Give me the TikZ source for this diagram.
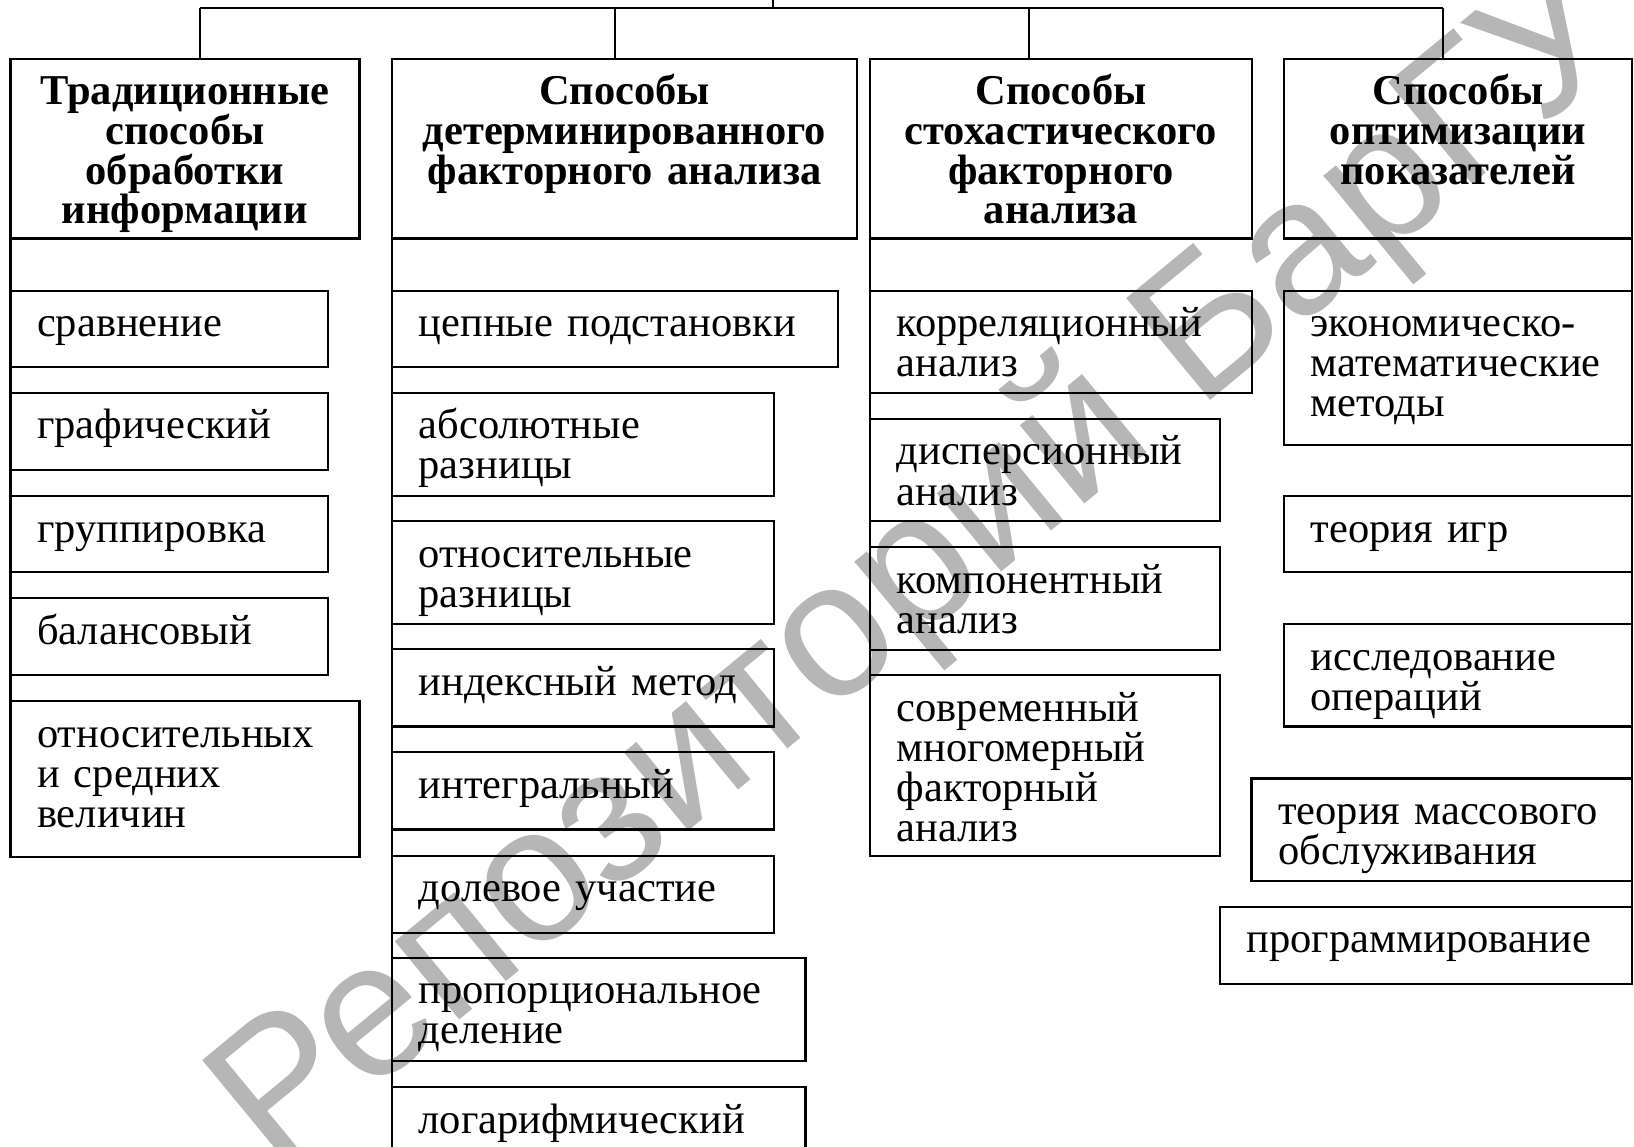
\documentclass[tikz,border=0pt]{standalone}
\usepackage{fontspec}
\setmainfont{Liberation Serif}
\newfontfamily\wmfont{Liberation Sans}
\usetikzlibrary{calc}
\definecolor{wmgray}{RGB}{182,182,182}
\newcommand\ItemFont{\fontsize{42.5}{40}\selectfont\lineskiplimit=-100pt\lineskip=0pt}
\newcommand\HeadFont{\fontsize{42.5}{39.6}\selectfont\bfseries\lineskiplimit=-100pt\lineskip=0pt}
\tikzset{
  box/.style={draw, line width=2.2pt, anchor=north west, inner sep=0pt, outer sep=0pt},
  itemtxt/.style={anchor=base west, inner sep=0pt, text width=600pt, align=left, font=\ItemFont},
  headtxt/.style={anchor=base, inner sep=0pt, align=center, font=\HeadFont},
  conn/.style={line width=2.2pt},
  wm/.style={text=wmgray, font=\wmfont\fontsize{192}{192}\selectfont, rotate=39.5, inner sep=0pt}
}
\newcommand\ItemBox[6]{%
  \node[box, minimum width={#4-#2}, minimum height={#5-#3}] (#1) at (#2,#3) {};
  \node[itemtxt] (#1t) at ([xshift=26.5pt,yshift=-46pt]#1.north west) {#6};
}
\newcommand\HeadBox[6]{%
  \node[box, minimum width={#4-#2}, minimum height={#5-#3}] (#1) at (#2,#3) {};
  \node[headtxt, text width={#4-#2}] (#1t) at ([yshift=-45.5pt]#1.north) {#6};
}
\begin{document}
\begin{tikzpicture}[x=1pt,y=-1pt]
\useasboundingbox (0,0) rectangle (1634,1147);
\clip (0,0) rectangle (1634,1147);
% watermark
\node[wm] (wm) at (922,572) {Репозиторий БарГУ};
% headers
\HeadBox{h1}{10.4}{59.4}{359.5}{238.6}{Традиционные\\способы\\обработки\\информации}
\HeadBox{h2}{392}{59.4}{857}{238.6}{Способы\\детерминированного\\факторного анализа}
\HeadBox{h3}{870}{59.4}{1252}{238.6}{Способы\\стохастического\\факторного\\анализа}
\HeadBox{h4}{1284}{59.4}{1632}{238.6}{Способы\\оптимизации\\показателей}
% top bus
\coordinate (root) at (773,0);
\coordinate (bl) at (200,8);
\coordinate (br) at (1443,8);
\coordinate (m2) at (615,8);
\coordinate (m3) at (1029,8);
\draw[conn] (root) -- (root |- bl);
\draw[conn] (bl) -- (br);
\draw[conn] (bl) -- (bl |- h1.north);
\draw[conn] (m2) -- (m2 |- h2.north);
\draw[conn] (m3) -- (m3 |- h3.north);
\draw[conn] (br) -- (br |- h4.north);
% column 1
\ItemBox{a1}{10.4}{290.7}{328.3}{366.8}{сравнение}
\ItemBox{a2}{10.4}{392.9}{328.3}{470}{графический}
\ItemBox{a3}{10.4}{496}{328.3}{572}{группировка}
\ItemBox{a4}{10.4}{598}{328.3}{675}{балансовый}
\ItemBox{a5}{10.4}{701}{359.5}{856.6}{относительных\\и средних\\величин}
% column 2
\ItemBox{b1}{392}{290.7}{838}{366.8}{цепные подстановки}
\ItemBox{b2}{392}{392.9}{774}{496}{абсолютные\\разницы}
\ItemBox{b3}{392}{521}{774}{624}{относительные\\разницы}
\ItemBox{b4}{392}{649}{774}{726.5}{индексный метод}
\ItemBox{b5}{392}{752}{774}{829.5}{интегральный}
\ItemBox{b6}{392}{855.6}{774}{932.7}{долевое участие}
\ItemBox{b7}{392}{957.7}{805.5}{1060.8}{пропорциональное\\деление}
\ItemBox{b8}{392}{1087}{805.5}{1175}{логарифмический}
% column 3
\ItemBox{c1}{870}{290.7}{1252}{392.9}{корреляционный\\анализ}
\ItemBox{c2}{870}{419}{1220}{521}{дисперсионный\\анализ}
\ItemBox{c3}{870}{547}{1220}{650}{компонентный\\анализ}
\ItemBox{c4}{870}{675}{1220}{855.6}{современный\\многомерный\\факторный\\анализ}
% column 4
\ItemBox{d1}{1284}{290.7}{1632}{445}{экономическо-\\математические\\методы}
\ItemBox{d2}{1284}{496}{1632}{572}{теория игр}
\ItemBox{d3}{1284}{624}{1632}{726.5}{исследование\\операций}
\ItemBox{d4}{1251.5}{778.5}{1632}{881}{теория массового\\обслуживания}
\ItemBox{d5}{1220}{906.6}{1632}{984}{программирование}
% column connectors
\draw[conn] (h1.south west) -- (a5.north west);
\draw[conn] (h2.south west) -- (b8.north west);
\draw[conn] (h3.south west) -- (c4.north west);
\draw[conn] (h4.south east) -- (d5.north east);
\end{tikzpicture}
\end{document}
